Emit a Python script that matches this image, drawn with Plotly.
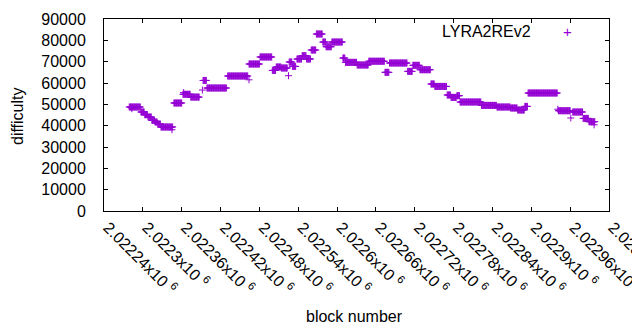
import numpy as np
import plotly.graph_objects as go

# plateau segments: first block, last block, difficulty
seg_start = [2022279, 2022297, 2022303, 2022308, 2022314, 2022319, 2022323, 2022328,
             2022348, 2022362, 2022374, 2022393, 2022399, 2022431, 2022464, 2022481,
             2022500, 2022506, 2022514, 2022526, 2022531, 2022538, 2022546, 2022553,
             2022560, 2022568, 2022578, 2022583, 2022592, 2022609, 2022613, 2022631,
             2022649, 2022674, 2022681, 2022709, 2022717, 2022728, 2022745, 2022751,
             2022770, 2022776, 2022785, 2022790, 2022823, 2022847, 2022868, 2022879,
             2022890, 2022895, 2022942, 2022964, 2022980, 2022989]
seg_end = [2022296, 2022302, 2022307, 2022313, 2022318, 2022322, 2022327, 2022346,
           2022360, 2022373, 2022387, 2022398, 2022429, 2022462, 2022480, 2022499,
           2022505, 2022513, 2022523, 2022530, 2022536, 2022545, 2022552, 2022559,
           2022567, 2022577, 2022582, 2022591, 2022608, 2022612, 2022630, 2022648,
           2022673, 2022680, 2022708, 2022716, 2022727, 2022744, 2022750, 2022769,
           2022775, 2022784, 2022789, 2022822, 2022846, 2022867, 2022878, 2022889,
           2022894, 2022940, 2022960, 2022979, 2022988, 2022998]
seg_value = [48750, 46400, 45140, 44060, 42470, 41720, 40780, 39375,
             50625, 54700, 53400, 61200, 57650, 63280, 68900, 72190,
             65900, 67500, 67030, 69840, 67780, 71250, 72800, 71250,
             75470, 82970, 79200, 77000, 79200, 71700, 69660, 68440,
             70200, 65000, 69370, 65440, 68280, 66230, 59530, 58400,
             54370, 53250, 54050, 51090, 49500, 48750, 48280, 47340,
             49030, 55310, 47000, 46400, 43400, 41860]

# isolated points
single_block = [2022283, 2022345, 2022363, 2022392, 2022464, 2022525, 2022941, 2022961, 2022997]
single_value = [47960, 38100, 55500, 56700, 61500, 63420, 47700, 43600, 40400]

x_tick_vals = [2022240, 2022300, 2022360, 2022420, 2022480, 2022540, 2022600,
               2022660, 2022720, 2022780, 2022840, 2022900, 2022960, 2023020]
x_tick_text = ["2.02224x10 <sup>6</sup>", "2.0223x10 <sup>6</sup>", "2.02236x10 <sup>6</sup>",
               "2.02242x10 <sup>6</sup>", "2.02248x10 <sup>6</sup>", "2.02254x10 <sup>6</sup>",
               "2.0226x10 <sup>6</sup>", "2.02266x10 <sup>6</sup>", "2.02272x10 <sup>6</sup>",
               "2.02278x10 <sup>6</sup>", "2.02284x10 <sup>6</sup>", "2.0229x10 <sup>6</sup>",
               "2.02296x10 <sup>6</sup>", "2.02302x10 <sup>6</sup>"]
y_tick_vals = [0, 10000, 20000, 30000, 40000, 50000, 60000, 70000, 80000, 90000]
y_tick_text = ["0", "10000", "20000", "30000", "40000", "50000", "60000", "70000", "80000", "90000"]

series_name = "LYRA2REv2"
x_title = "block number"
y_title = "difficulty"
PURPLE = "#9400D3"
FONT = "Liberation Sans"

xs, ys = [], []
for s, e, v in zip(seg_start, seg_end, seg_value):
    for b in range(s, e + 1):
        xs.append(b)
        ys.append(v)
xs += single_block
ys += single_value

fig = go.Figure()
fig.add_trace(go.Scatter(
    x=xs, y=ys, mode="markers", name=series_name, showlegend=False,
    marker=dict(symbol="cross-thin", size=5, color=PURPLE,
                line=dict(width=1, color=PURPLE)),
))

axis_common = dict(showline=True, linecolor="black", linewidth=1, mirror="allticks",
                   ticks="inside", ticklen=4, tickcolor="black", showgrid=False,
                   zeroline=False, automargin=False, ticklabeloverflow="allow",
                   tickfont=dict(family=FONT, size=16, color="black"))

# the page body has an 8px margin: work in page pixels, convert to figure pixels
OFF = 8
L, R, T, B = 104, 609, 19, 211          # plot area in page pixels
W, H = 640 - OFF, 330 - OFF             # figure size

def px(xp):
    return (xp - L) / (R - L)

def py(yp):
    return (B - yp) / (B - T)

fig.update_layout(
    width=W, height=H,
    margin=dict(l=L - OFF, r=W - (R - OFF), t=T - OFF, b=H - (B - OFF), autoexpand=False),
    paper_bgcolor="white", plot_bgcolor="white",
    font=dict(family=FONT, size=16, color="black"),
    xaxis=dict(range=[x_tick_vals[0], x_tick_vals[-1]], tickmode="array",
               tickvals=x_tick_vals, ticktext=x_tick_text, tickangle=45,
               ticklabelshift=4,
               **axis_common),
    yaxis=dict(range=[0, 90000], tickmode="array", tickvals=y_tick_vals,
               ticktext=y_tick_text, ticklabelstandoff=14,
               **axis_common),
    annotations=[
        dict(xref="paper", yref="paper", x=px(533), y=py(31.7),
             text=series_name, showarrow=False, xanchor="right", yanchor="middle",
             font=dict(family=FONT, size=16, color="black")),
        dict(xref="paper", yref="paper", x=px(567), y=py(31.7),
             text="+", showarrow=False, xanchor="center", yanchor="middle",
             font=dict(family=FONT, size=15, color=PURPLE)),
        dict(xref="paper", yref="paper", x=px(354), y=py(316),
             text=x_title, showarrow=False, xanchor="center", yanchor="middle",
             font=dict(family=FONT, size=16, color="black")),
        dict(xref="paper", yref="paper", x=px(18), y=py(116),
             text=y_title, showarrow=False, xanchor="center", yanchor="middle",
             textangle=-90, font=dict(family=FONT, size=16, color="black")),
    ],
)

fig.write_html("out.html")
